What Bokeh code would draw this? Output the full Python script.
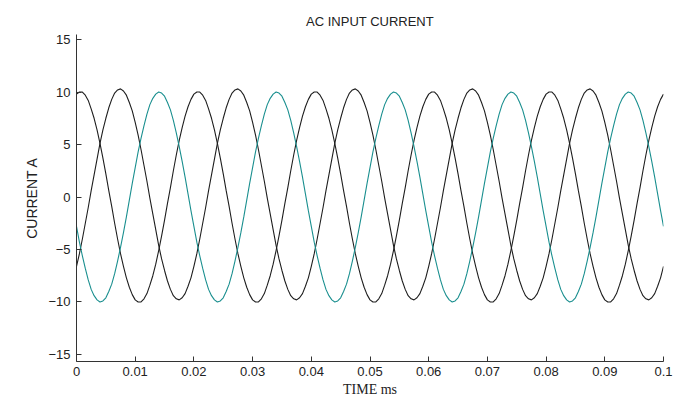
from bokeh.plotting import figure
from bokeh.models import Range1d, FixedTicker, Title
from bokeh.embed import file_html
from bokeh.resources import INLINE

# time axis in seconds (sampled every 0.5 ms)
time_s = [i / 2000 for i in range(201)]

# phase currents (A)
phase_a = [9.8, 10.0, 10.0, 9.7, 9.2, 8.4, 7.5, 6.4, 5.1, 3.7, 2.2, 0.6, -0.9, -2.5, -4.0, -5.4, -6.6, -7.7, -8.6, -9.3,
           -9.8, -10.0, -10.0, -9.7, -9.2, -8.4, -7.5, -6.4, -5.1, -3.7, -2.2, -0.6, 0.9, 2.5, 4.0, 5.4, 6.6, 7.7, 8.6, 9.3,
           9.8, 10.0, 10.0, 9.7, 9.2, 8.4, 7.5, 6.4, 5.1, 3.7, 2.2, 0.6, -0.9, -2.5, -4.0, -5.4, -6.6, -7.7, -8.6, -9.3,
           -9.8, -10.0, -10.0, -9.7, -9.2, -8.4, -7.5, -6.4, -5.1, -3.7, -2.2, -0.6, 0.9, 2.5, 4.0, 5.4, 6.6, 7.7, 8.6, 9.3,
           9.8, 10.0, 10.0, 9.7, 9.2, 8.4, 7.5, 6.4, 5.1, 3.7, 2.2, 0.6, -0.9, -2.5, -4.0, -5.4, -6.6, -7.7, -8.6, -9.3,
           -9.8, -10.0, -10.0, -9.7, -9.2, -8.4, -7.5, -6.4, -5.1, -3.7, -2.2, -0.6, 0.9, 2.5, 4.0, 5.4, 6.6, 7.7, 8.6, 9.3,
           9.8, 10.0, 10.0, 9.7, 9.2, 8.4, 7.5, 6.4, 5.1, 3.7, 2.2, 0.6, -0.9, -2.5, -4.0, -5.4, -6.6, -7.7, -8.6, -9.3,
           -9.8, -10.0, -10.0, -9.7, -9.2, -8.4, -7.5, -6.4, -5.1, -3.7, -2.2, -0.6, 0.9, 2.5, 4.0, 5.4, 6.6, 7.7, 8.6, 9.3,
           9.8, 10.0, 10.0, 9.7, 9.2, 8.4, 7.5, 6.4, 5.1, 3.7, 2.2, 0.6, -0.9, -2.5, -4.0, -5.4, -6.6, -7.7, -8.6, -9.3,
           -9.8, -10.0, -10.0, -9.7, -9.2, -8.4, -7.5, -6.4, -5.1, -3.7, -2.2, -0.6, 0.9, 2.5, 4.0, 5.4, 6.6, 7.7, 8.6, 9.3,
           9.8]
phase_b = [-6.6, -5.4, -4.0, -2.5, -1.0, 0.6, 2.1, 3.6, 5.1, 6.4, 7.5, 8.5, 9.3, 9.9, 10.2, 10.3, 10.1, 9.7, 9.0, 8.2,
           7.1, 5.9, 4.5, 3.0, 1.5, -0.1, -1.6, -3.1, -4.6, -5.9, -7.0, -8.0, -8.8, -9.4, -9.7, -9.8, -9.6, -9.2, -8.5, -7.7,
           -6.6, -5.4, -4.0, -2.5, -1.0, 0.6, 2.1, 3.6, 5.1, 6.4, 7.5, 8.5, 9.3, 9.9, 10.2, 10.3, 10.1, 9.7, 9.0, 8.2,
           7.1, 5.9, 4.5, 3.0, 1.5, -0.1, -1.6, -3.1, -4.6, -5.9, -7.0, -8.0, -8.8, -9.4, -9.7, -9.8, -9.6, -9.2, -8.5, -7.7,
           -6.6, -5.4, -4.0, -2.5, -1.0, 0.6, 2.1, 3.6, 5.1, 6.4, 7.5, 8.5, 9.3, 9.9, 10.2, 10.3, 10.1, 9.7, 9.0, 8.2,
           7.1, 5.9, 4.5, 3.0, 1.5, -0.1, -1.6, -3.1, -4.6, -5.9, -7.0, -8.0, -8.8, -9.4, -9.7, -9.8, -9.6, -9.2, -8.5, -7.7,
           -6.6, -5.4, -4.0, -2.5, -1.0, 0.6, 2.1, 3.6, 5.1, 6.4, 7.5, 8.5, 9.3, 9.9, 10.2, 10.3, 10.1, 9.7, 9.0, 8.2,
           7.1, 5.9, 4.5, 3.0, 1.5, -0.1, -1.6, -3.1, -4.6, -5.9, -7.0, -8.0, -8.8, -9.4, -9.7, -9.8, -9.6, -9.2, -8.5, -7.7,
           -6.6, -5.4, -4.0, -2.5, -1.0, 0.6, 2.1, 3.6, 5.1, 6.4, 7.5, 8.5, 9.3, 9.9, 10.2, 10.3, 10.1, 9.7, 9.0, 8.2,
           7.1, 5.9, 4.5, 3.0, 1.5, -0.1, -1.6, -3.1, -4.6, -5.9, -7.0, -8.0, -8.8, -9.4, -9.7, -9.8, -9.6, -9.2, -8.5, -7.7,
           -6.6]
phase_c = [-2.8, -4.3, -5.6, -6.8, -7.9, -8.8, -9.4, -9.8, -10.0, -9.9, -9.6, -9.0, -8.3, -7.3, -6.1, -4.8, -3.4, -1.9, -0.3, 1.3,
           2.8, 4.3, 5.6, 6.8, 7.9, 8.8, 9.4, 9.8, 10.0, 9.9, 9.6, 9.0, 8.3, 7.3, 6.1, 4.8, 3.4, 1.9, 0.3, -1.3,
           -2.8, -4.3, -5.6, -6.8, -7.9, -8.8, -9.4, -9.8, -10.0, -9.9, -9.6, -9.0, -8.3, -7.3, -6.1, -4.8, -3.4, -1.9, -0.3, 1.3,
           2.8, 4.3, 5.6, 6.8, 7.9, 8.8, 9.4, 9.8, 10.0, 9.9, 9.6, 9.0, 8.3, 7.3, 6.1, 4.8, 3.4, 1.9, 0.3, -1.3,
           -2.8, -4.3, -5.6, -6.8, -7.9, -8.8, -9.4, -9.8, -10.0, -9.9, -9.6, -9.0, -8.3, -7.3, -6.1, -4.8, -3.4, -1.9, -0.3, 1.3,
           2.8, 4.3, 5.6, 6.8, 7.9, 8.8, 9.4, 9.8, 10.0, 9.9, 9.6, 9.0, 8.3, 7.3, 6.1, 4.8, 3.4, 1.9, 0.3, -1.3,
           -2.8, -4.3, -5.6, -6.8, -7.9, -8.8, -9.4, -9.8, -10.0, -9.9, -9.6, -9.0, -8.3, -7.3, -6.1, -4.8, -3.4, -1.9, -0.3, 1.3,
           2.8, 4.3, 5.6, 6.8, 7.9, 8.8, 9.4, 9.8, 10.0, 9.9, 9.6, 9.0, 8.3, 7.3, 6.1, 4.8, 3.4, 1.9, 0.3, -1.3,
           -2.8, -4.3, -5.6, -6.8, -7.9, -8.8, -9.4, -9.8, -10.0, -9.9, -9.6, -9.0, -8.3, -7.3, -6.1, -4.8, -3.4, -1.9, -0.3, 1.3,
           2.8, 4.3, 5.6, 6.8, 7.9, 8.8, 9.4, 9.8, 10.0, 9.9, 9.6, 9.0, 8.3, 7.3, 6.1, 4.8, 3.4, 1.9, 0.3, -1.3,
           -2.8]

x_ticks = [0, 0.01, 0.02, 0.03, 0.04, 0.05, 0.06, 0.07, 0.08, 0.09, 0.1]
x_tick_labels = ["0", "0.01", "0.02", "0.03", "0.04", "0.05", "0.06", "0.07", "0.08", "0.09", "0.1"]
y_ticks = [-15, -10, -5, 0, 5, 10, 15]

title_text = "AC INPUT CURRENT"
x_label = "TIME ms"
y_label = "CURRENT A"

p = figure(width=675, height=401, output_backend="svg", toolbar_location=None,
           x_range=Range1d(0, 0.1), y_range=Range1d(-15.67, 15.48),
           min_border_left=76, min_border_right=12, min_border_top=34, min_border_bottom=40)
p.title = Title(text=title_text, align="center", text_font="Liberation Sans", text_font_size="13px",
                text_font_style="normal", text_color="#222222", standoff=12)
p.xgrid.visible = False
p.ygrid.visible = False
p.outline_line_color = None
p.background_fill_color = "white"
p.border_fill_color = "white"

p.line(time_s, phase_a, line_color="#1e1e1e", line_width=1.1)
p.line(time_s, phase_b, line_color="#1e1e1e", line_width=1.1)
p.line(time_s, phase_c, line_color="#1a8f8f", line_width=1.1)

for ax in (p.xaxis[0], p.yaxis[0]):
    ax.axis_line_color = "#333333"
    ax.major_tick_line_color = "#333333"
    ax.major_tick_in = 5
    ax.major_tick_out = 0
    ax.minor_tick_line_color = None
    ax.major_label_text_font = "Liberation Sans"
    ax.major_label_text_font_size = "13px"
    ax.major_label_text_color = "#222222"
    ax.axis_label_text_font_style = "normal"
    ax.axis_label_text_color = "#222222"

p.xaxis.ticker = FixedTicker(ticks=x_ticks)
p.xaxis.major_label_overrides = {t: l for t, l in zip(x_ticks, x_tick_labels)}
p.xaxis.major_label_standoff = 5
p.xaxis.axis_label = x_label
p.xaxis.axis_label_text_font = "Liberation Serif"
p.xaxis.axis_label_text_font_size = "14px"
p.xaxis.axis_label_standoff = 3

p.yaxis.ticker = FixedTicker(ticks=y_ticks)
p.yaxis.major_label_standoff = 6
p.yaxis.axis_label = y_label
p.yaxis.axis_label_text_font = "Liberation Sans"
p.yaxis.axis_label_text_font_size = "14px"
p.yaxis.axis_label_standoff = 5

open("out.html", "w").write(file_html(p, INLINE))
